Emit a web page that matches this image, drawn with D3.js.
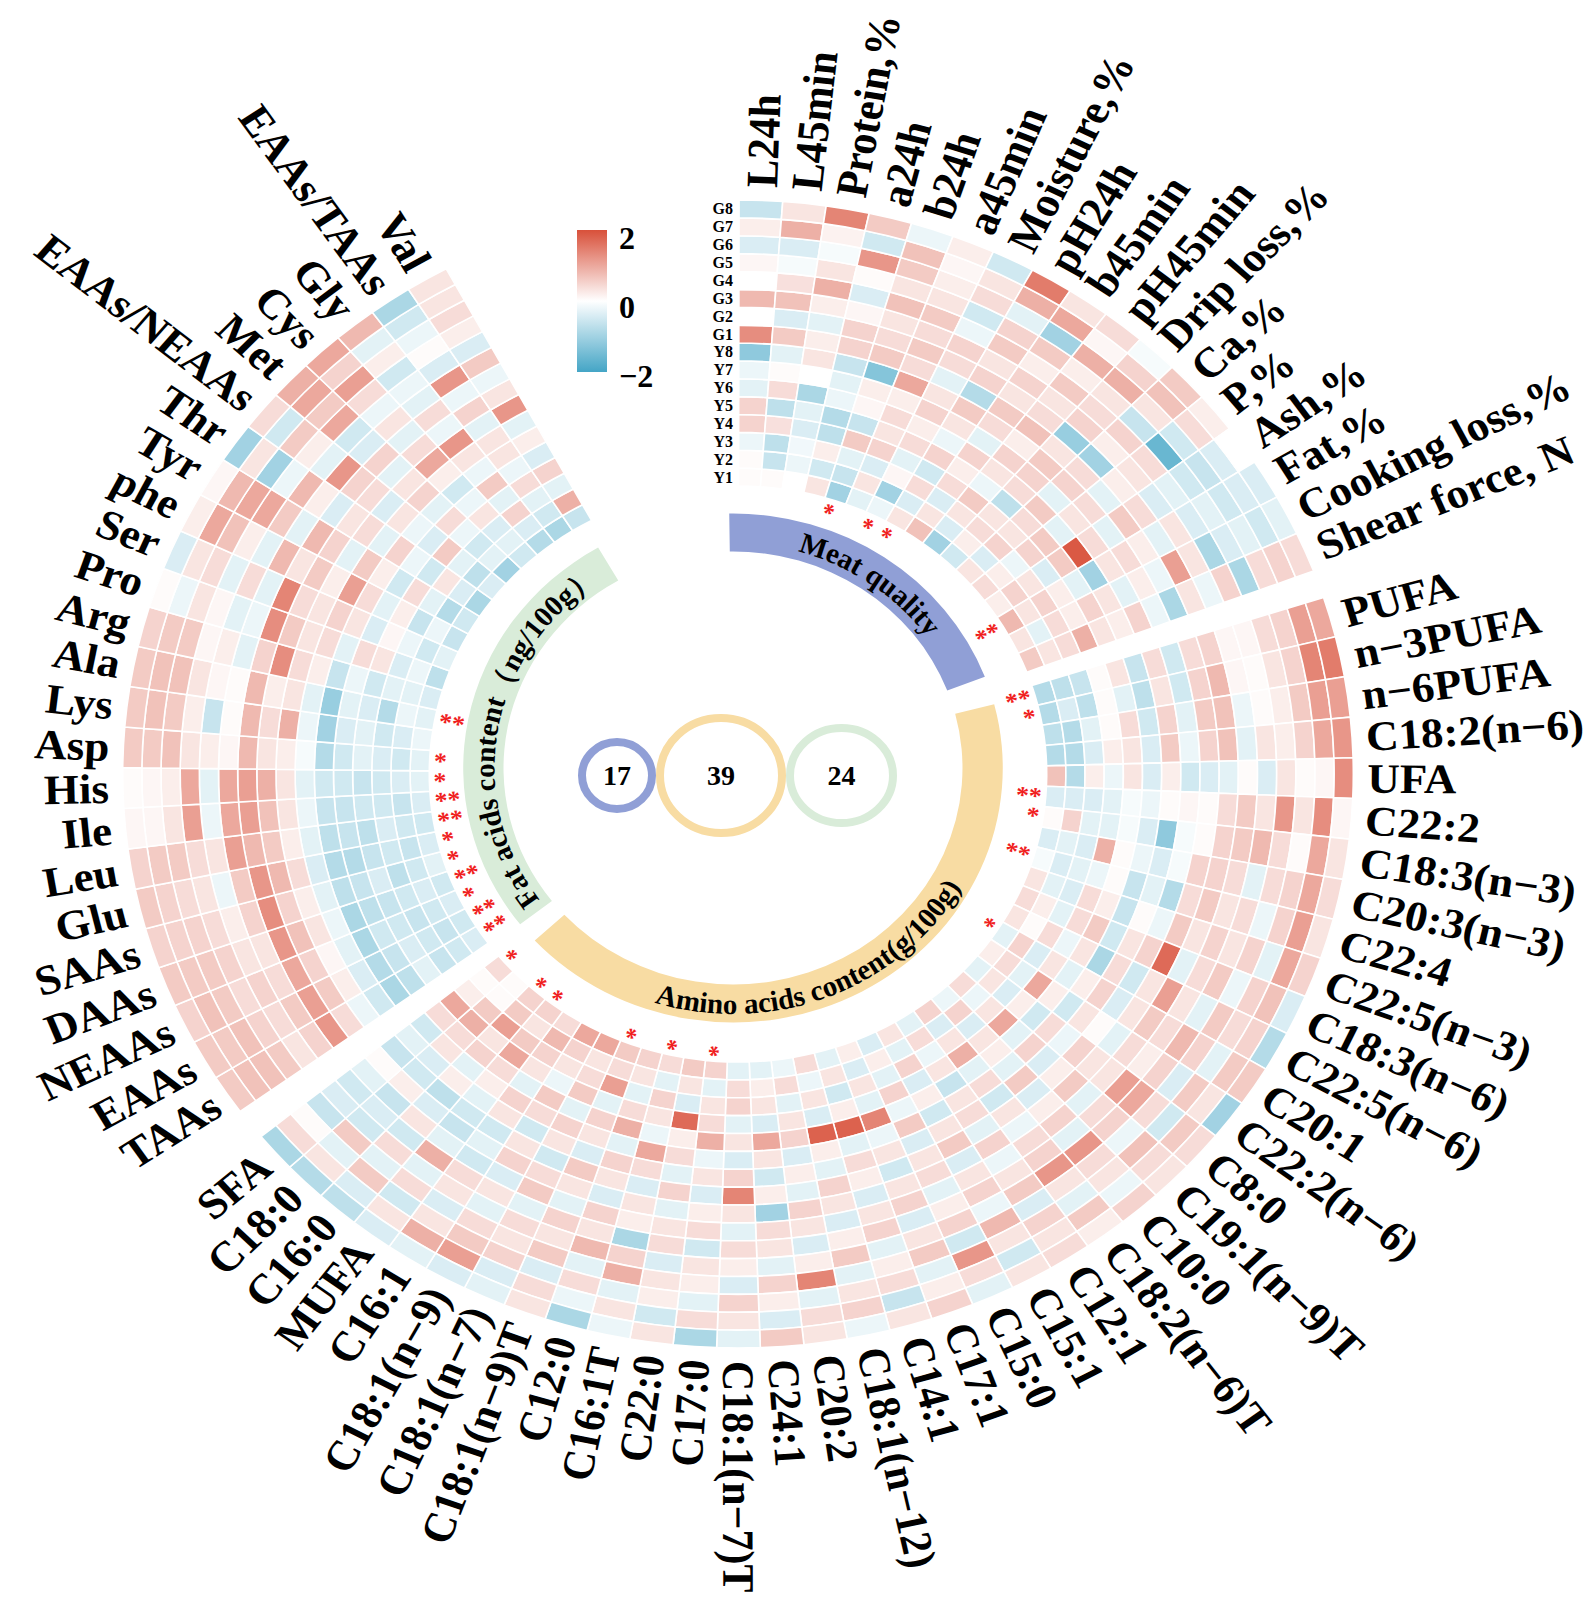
<!DOCTYPE html>
<html>
<head>
<meta charset="utf-8">
<script src="https://cdn.jsdelivr.net/npm/d3@7"></script>
<style>
  body { margin: 0; background: #fff; }
  text { font-family: "Liberation Serif", "Times New Roman", serif; font-weight: bold; }
</style>
</head>
<body>
<div id="chart"></div>
<script>
// rings, inner -> outer
var samples = ["Y1","Y2","Y3","Y4","Y5","Y6","Y7","Y8","G1","G2","G3","G4","G5","G6","G7","G8"];

// meat quality, one array per variable (Y1..G8)
var meatVars = ["L24h","L45min","Protein,%","a24h","b24h","a45min","Moisture,%","pH24h","b45min","pH45min",
  "Drip loss,%","Ca,%","P,%","Ash,%","Fat,%","Cooking loss,%","Shear force, N"];
var meatValues = [
  [0.05,0.05,-0.2,0.5,0.5,-0.3,-0.2,-1.2,1.3,0,0.8,0,0.1,-0.4,0.2,-0.6],
  [0.05,-0.6,-0.7,0.35,-0.7,0.4,0.05,-0.3,0.6,-0.4,0.7,0.35,-0.1,-0.4,0.9,0.3],
  [0,-0.2,-0.15,-0.4,-0.3,-0.9,0,0.3,0.2,-0.3,0.2,0.9,0.3,-0.1,0.15,1.4],
  [0.3,-0.5,0.2,-0.7,-0.8,-0.2,-0.3,-0.6,0.5,0.5,0.1,-0.4,0.05,1.2,-0.5,0.6],
  [-1.0,-0.6,-0.3,0.6,-0.6,0.1,0.2,-1.3,0.6,0.4,0.3,0.7,0.3,0.6,0.7,-0.2],
  [-0.3,0.3,-0.4,0.5,0.3,0.4,0.2,1.0,0.4,0.6,0.4,0.6,0.3,0.2,0.1,0.2],
  [-0.2,-1.0,0.1,-0.3,0.4,0.2,0.5,0.3,-0.3,0.4,0.5,-0.2,-0.5,0.4,0.3,-0.5],
  [0.3,-0.4,0.4,-0.5,0.5,-0.2,0.3,0.6,-0.8,0.5,0.3,0.6,0.5,-0.3,0.9,1.5],
  [0.7,0.3,-0.4,0.4,0.2,0.5,-0.3,0.4,0.6,0.3,0.5,0.2,0.6,-1.0,1.0,0.3],
  [-1.0,-0.4,0.3,0.6,-0.2,0.3,0.5,0.2,0.7,0.4,0.3,0.6,0.2,0.9,0.1,0.4],
  [-0.5,0.2,0.4,0.3,-0.7,0.4,0.5,0.6,0.3,-1.1,0.5,0.4,0.3,0.9,0.5,-0.1],
  [0.3,-0.4,0.5,0.3,0.4,0.6,-0.3,0.5,0.4,-1.0,0.2,0.5,-0.6,0.3,0.7,0.6],
  [0.4,0.2,-0.2,0.5,0.6,-0.3,0.3,0.4,-0.3,0.2,0.3,0.4,-1.6,-0.5,0.4,0.2],
  [0.2,0.5,0.3,-0.4,0.6,1.9,0.4,-0.3,0.6,0.4,-0.4,-0.3,-0.5,-0.6,-0.4,0],
  [0.8,0.3,0.5,0.2,-0.3,-1.0,0.3,0.4,0.2,-0.3,0.3,-0.4,-0.3,-0.5,-0.4,-0.4],
  [0.3,-0.3,0.4,0.2,0.5,0.3,-0.3,0.2,-0.2,1.1,0.3,-0.9,-0.4,-0.3,-0.5,-0.3],
  [0.6,0.3,0.4,0.9,0.3,0.2,0.5,-0.2,-0.9,0.3,-0.2,0.5,-0.9,0.4,0.5,0.4]
];
var meatStars = ["","","","","*","","*","*","","","","","","","**","",""];

// fatty acids
var fatVars = ["PUFA","n\u22123PUFA","n\u22126PUFA","C18:2(n\u22126)","UFA","C22:2","C18:3(n\u22123)","C20:3(n\u22123)",
  "C22:4","C22:5(n\u22123)","C18:3(n\u22126)","C22:5(n\u22126)","C20:1","C22:2(n\u22126)","C8:0","C19:1(n\u22129)T",
  "C10:0","C18:2(n\u22126)T","C12:1","C15:1","C15:0","C17:1","C14:1","C18:1(n\u221212)","C20:2","C24:1",
  "C18:1(n\u22127)T","C17:0","C22:0","C16:1T","C12:0","C18:1(n\u22129)T","C18:1(n\u22127)","C18:1(n\u22129)",
  "C16:1","MUFA","C16:0","C18:0","SFA"];
var fatValues = [
  [-0.8,-0.7,-0.6,0.05,0.3,-0.6,0.4,-0.5,0.4,0.5,0.1,0.1,0.4,0.5,1.1,1.0],
  [-0.8,-0.4,-0.7,0.05,-0.3,-0.7,0.3,-0.5,0.5,0.8,0.1,0.05,0.3,0.5,1.4,1.5],
  [-0.7,-0.8,-0.3,0.05,0.4,-0.5,0.5,-0.3,0.6,0.7,-0.2,0.05,0.2,0.6,1.1,1.1],
  [-0.8,-0.8,-0.4,0.2,0.3,-0.4,0.6,-0.2,0.5,0.7,-0.3,0.3,0.2,0.5,1.0,1.2],
  [0.7,-0.8,0.2,-0.2,0.3,-0.4,0.2,-0.5,-0.4,-0.3,0.05,-0.4,0.3,0.05,0.1,1.3],
  [-0.4,-0.4,-0.4,-0.3,-0.1,-0.2,0.05,0.1,0.05,0.4,0.6,0.3,1.2,0.3,1.3,0.1],
  [0.05,0.5,-0.3,-0.3,-0.1,-0.4,-1.2,-0.1,0.05,0.5,0.6,0.8,0.4,0.05,1.0,0.3],
  [-0.4,-0.3,-0.4,0.9,0.05,-0.2,-0.4,-0.1,0.5,0.5,0.4,-0.3,0.4,0.5,1.0,0.4],
  [-0.1,-0.4,-0.3,-0.2,0.05,-0.6,-0.3,-0.8,0.4,0.6,0.3,0.4,-0.2,0.5,1.1,0.3],
  [0.3,-0.3,-0.4,0.4,0.2,-0.6,0.05,-0.2,0.6,0.3,0.5,0.3,0.5,-0.3,1.0,0.5],
  [0.4,0.2,-0.3,0.4,0.6,-0.5,0.3,0.5,1.7,-0.3,0.4,0.6,-0.2,0.5,0.7,-0.4],
  [0.3,0.05,0.4,-0.2,0.3,-0.9,0.4,-0.5,0.3,1.1,0.3,-0.3,0.6,0.4,0.5,-0.8],
  [-0.3,0.5,-0.4,0.3,-0.3,0.2,0.5,-0.4,0.3,0.6,0.4,0.8,0.5,-0.3,0.6,0.6],
  [0.2,0.4,-0.3,1.0,0.2,-0.5,0.3,0.05,-0.3,0.4,0.2,0.5,-0.4,0.6,0.3,-1.0],
  [-0.3,0.3,-0.4,0.2,-0.5,0.4,-0.2,0.5,0.3,0.3,1.1,1.0,0.4,-0.5,0.6,0.4],
  [0.4,-0.2,0.3,1.0,-0.3,0.5,-0.4,0.2,0.6,-0.3,0.4,0.5,-0.2,0.7,0.4,0.3],
  [-0.2,0.5,-0.4,0.3,0.2,-0.3,0.6,-0.4,0.2,0.5,-0.3,1.2,0.4,0.3,-0.2,0.5],
  [0.5,-0.4,0.3,0.9,-0.3,0.4,-0.5,0.3,-0.2,0.4,0.5,1.2,0.3,-0.3,0.6,0.2],
  [-0.3,0.4,-0.2,0.3,-0.6,0.3,0.4,-0.3,0.5,-0.2,0.3,0.6,-0.4,0.5,0.3,0.4],
  [0.3,-0.3,0.5,-0.4,0.2,-0.5,0.3,0.6,-0.4,0.3,0.5,-0.2,0.8,0.3,-0.5,0.3],
  [-0.4,0.2,-0.3,0.5,-0.2,0.6,-0.4,0.3,0.4,-0.3,0.2,0.5,-0.5,1.2,0.4,-0.3],
  [0.2,-0.4,0.3,-0.3,1.4,-0.2,0.3,-0.5,0.3,0.5,-0.4,0.3,0.6,-0.3,0.2,0.5],
  [-0.3,0.3,-0.5,0.2,1.8,-0.3,0.4,0.2,-0.4,0.3,0.5,-0.3,0.2,0.4,-0.6,0.3],
  [0.4,-0.2,0.3,-0.4,1.8,0.2,-0.3,0.5,0.3,-0.4,0.2,0.6,-0.3,0.3,0.5,-0.2],
  [-0.2,0.4,-0.3,0.3,0.5,-0.4,0.2,-0.3,0.5,0.3,-0.4,0.2,1.4,-0.3,0.4,0.3],
  [-0.3,0.2,0.3,-0.4,1.0,0.3,-0.5,0.2,-1.0,0.4,0.3,-0.3,0.5,0.2,-0.4,0.6],
  [-0.3,0.4,0.5,-0.3,0.3,-0.4,0.5,1.4,0.3,-0.3,0.4,0.2,-0.4,0.5,0.3,-0.3],
  [0.5,-0.3,0.3,0.4,0.9,-0.2,0.3,-0.4,0.2,0.4,-0.5,0.3,0.2,-0.3,0.4,-0.9],
  [0.6,0.3,-0.4,1.7,0.2,0.4,-0.3,0.5,-0.3,0.3,0.4,-0.4,0.3,0.2,-0.5,0.3],
  [0.4,-0.3,0.5,0.3,-0.2,1.0,0.4,-0.4,0.3,0.2,-0.9,0.5,0.9,-0.3,0.3,-0.2],
  [0.5,0.3,-0.3,0.4,0.9,-0.3,0.5,0.3,-0.4,0.5,0.3,0.8,-0.3,0.4,-0.2,-0.9],
  [0.6,0.4,1.1,-0.3,0.5,0.3,-0.4,0.6,0.3,-0.3,0.5,0.3,0.6,-0.4,0.4,0.3],
  [1.0,0.3,0.4,0.6,-0.3,0.5,0.3,-0.5,0.4,0.6,-0.3,0.4,0.3,0.5,-0.4,-0.3],
  [1.0,0.5,0.3,-0.2,0.6,0.4,-0.5,0.3,0.5,-0.4,0.3,-0.3,0.4,0.6,1.1,-0.4],
  [0.4,0.8,0.5,0.3,-0.3,0.5,0.3,-0.5,-0.3,-0.5,0.4,0.3,-0.4,0.3,0.9,-0.3],
  [0.5,0.3,0.6,1.0,0.4,0.2,-0.3,-0.5,-0.6,-0.3,0.9,-0.3,0.4,-0.5,0.3,-0.4],
  [0.5,0.6,1.1,0.3,0.5,-0.3,0.2,-0.7,-0.4,0.3,-0.5,0.4,-0.3,0.6,-0.4,-0.7],
  [0.05,0.05,0.6,0.9,0.4,0.3,-0.4,-0.5,0.2,-0.6,-0.4,-0.5,0.6,-0.3,0.3,-0.8],
  [0.4,0.05,0.2,1.0,0.4,-0.5,-0.3,-0.6,0.05,-0.3,-0.5,-0.4,-0.6,0.05,0.4,-0.9]
];
var fatStars = ["**","*","","","","**","*","","**","","","","*","","","","","","","","","","","","","","",
  "*","","*","","*","","","","*","*","","*"];

// amino acids
var aminoVars = ["TAAs","EAAs","NEAAs","DAAs","SAAs","Glu","Leu","Ile","His","Asp","Lys","Ala","Arg","Pro","Ser",
  "phe","Tyr","Thr","EAAs/NEAAs","Met","Cys","Gly","EAAs/TAAs","Val"];
var aminoValues = [
  [-0.4,-0.5,-0.6,-0.3,-0.7,-0.9,-0.5,-0.2,0.4,1.2,0.5,0.3,0.6,0.7,0.7,0.6],
  [-0.5,-0.6,-0.5,-0.4,-0.6,-0.8,-0.4,0.2,0.6,1.1,0.6,0.4,0.5,0.7,0.6,0.6],
  [-0.4,-0.5,-0.6,-0.5,-0.5,-0.9,-0.3,0.1,0.5,1.0,0.4,0.5,0.4,0.6,0.7,0.5],
  [-0.5,-0.4,-0.5,-0.6,-0.7,-0.9,-0.2,0.3,0.7,1.2,0.3,0.3,0.5,0.6,0.6,0.6],
  [-0.3,-0.5,-0.7,-0.4,-0.6,-0.7,-0.3,0.2,0.5,1.3,0.5,0.2,0.4,0.5,0.5,0.5],
  [-0.4,-0.6,-0.5,-0.6,-0.8,-0.8,-0.4,0.4,0.8,1.2,0.6,-0.2,0.3,0.4,0.5,0.6],
  [-0.5,-0.5,-0.4,-0.7,-0.6,-0.7,-0.3,0.2,0.6,0.8,1.1,0.3,0.4,0.6,0.6,0.5],
  [-0.4,-0.6,-0.5,-0.5,-0.6,-0.6,-0.2,0.3,0.7,1.1,1.0,-0.2,1.1,0.3,0.1,0.1],
  [-0.3,-0.4,-0.5,-0.6,-0.5,-0.5,-0.3,0.3,0.9,1.1,1.0,-0.3,1.0,0.2,0.1,0.05],
  [-0.3,-0.5,-0.4,-0.3,-0.5,-0.8,-0.1,0.2,0.3,0.8,0.1,0.2,0.3,0.7,0.6,0.6],
  [-0.2,-0.4,-0.5,-0.3,-0.4,-1.0,-0.2,0.9,0.4,0.8,0.05,-0.6,0.2,0.6,0.7,0.6],
  [-0.3,-0.2,-0.8,-0.4,-0.3,-1.1,-0.3,0.3,0.2,0.8,0.05,0.1,0.3,0.7,0.7,0.6],
  [-0.4,-0.3,-0.3,-0.5,-0.2,-0.6,0.2,0.4,1.3,0.5,-0.3,0.2,0.1,0.6,0.6,0.5],
  [-0.7,-0.2,-0.4,0.3,0.4,-0.3,0.4,0.3,0.6,1.3,-0.2,-0.3,0.1,0.3,-0.2,0.05],
  [-0.3,-0.5,-0.2,0.1,-0.4,0.3,0.5,0.3,0.4,1.4,-0.3,0.4,-0.3,0.4,0.3,-0.4],
  [-0.6,-0.2,-0.6,0.2,-0.3,0.4,1.1,0.2,0.6,0.3,0.8,-0.3,0.2,0.7,1.0,0.2],
  [-0.5,-0.8,-0.3,0.4,-0.5,0.2,0.6,-0.3,0.5,0.8,-0.3,0.6,1.0,1.0,0.8,0.1],
  [-0.9,-0.4,0.3,-0.5,-0.2,0.5,-0.3,0.4,0.3,-0.4,0.2,0.8,-0.2,-1.0,0.3,-1.0],
  [-0.4,-0.7,-0.3,0.6,-0.4,-0.2,0.3,-0.4,0.4,0.5,1.2,-0.3,0.2,0.6,-0.5,0.4],
  [-1.0,-0.3,-0.5,-0.2,0.4,-0.3,0.5,0.3,-0.3,0.5,-0.4,-0.5,1.0,0.6,1.0,0.9],
  [-0.5,-0.3,-0.4,0.3,-0.2,-0.5,0.2,1.0,0.4,-0.3,0.3,-0.2,0.4,1.1,0.5,1.0],
  [-0.8,-0.4,0.5,-0.3,0.6,-0.2,0.3,1.2,-0.2,0.4,-0.3,-0.2,-0.5,0.2,-0.3,0.8],
  [-0.9,-0.5,-0.3,0.4,-0.2,0.3,0.3,-0.3,0.5,-0.2,1.2,-0.4,0.05,-0.2,-0.5,-0.9],
  [-0.6,0.9,-0.3,0.5,-0.4,0.2,-0.3,1.2,0.3,-0.2,0.6,-0.4,0.2,0.4,0.3,0.3]
];
var aminoStars = ["**","**","*","**","*","*","**","**","*","*","","**","","","","","","","","","","","",""];

var legendTicks = [2, 0, -2];

// ---------------- layout ----------------
var geo = { cx: 738, cy: 774, sx: 1.072, rIn: 288, rOut: 574, colDeg: 4.07, labelR: 587, starR: 284 };
var band = { cx: 733, cy: 768, sx: 1.06, rIn: 216.5, rOut: 254.5 };

var svg = d3.select("#chart").append("svg").attr("width", 1595).attr("height", 1603);

var rad = function(d) { return d * Math.PI / 180; };
var color = d3.scaleLinear().domain([-2, 0, 2]).range(["#44a5c6", "#ffffff", "#d8503a"]).clamp(true);
var rScale = d3.scaleBand().domain(samples).range([geo.rIn, geo.rOut]);

var sectors = [
  { vars: meatVars, vals: meatValues, stars: meatStars, start: 0.1 },
  { vars: fatVars, vals: fatValues, stars: fatStars, start: 72.1 },
  { vars: aminoVars, vals: aminoValues, stars: aminoStars, start: 234.0 }
];

function polar(r, a) { return [geo.cx + geo.sx * r * Math.sin(a), geo.cy - r * Math.cos(a)]; }

var ring = svg.append("g")
  .attr("transform", "translate(" + geo.cx + "," + geo.cy + ") scale(" + geo.sx + ",1)");
var arc = d3.arc();

sectors.forEach(function(sec) {
  sec.aScale = d3.scaleBand().domain(sec.vars)
    .range([rad(sec.start), rad(sec.start + sec.vars.length * geo.colDeg)]);
  var cells = [];
  sec.vars.forEach(function(v, i) {
    samples.forEach(function(s, j) { cells.push({ v: v, s: s, val: sec.vals[i][j] }); });
  });
  ring.append("g").selectAll("path").data(cells).enter().append("path")
    .attr("d", function(d) {
      return arc({ innerRadius: rScale(d.s), outerRadius: rScale(d.s) + rScale.bandwidth(),
        startAngle: sec.aScale(d.v), endAngle: sec.aScale(d.v) + sec.aScale.bandwidth() });
    })
    .attr("fill", function(d) { return color(d.val); })
    .attr("stroke", "#fff").attr("stroke-width", 1.6)
    .attr("vector-effect", "non-scaling-stroke");

  // variable labels and significance stars (drawn on the circle, then stretched like the rings)
  sec.vars.forEach(function(v, i) {
    var a = sec.aScale(v) + sec.aScale.bandwidth() / 2;
    var deg = a * 180 / Math.PI;
    var right = deg < 180;
    var rot = right ? deg - 90 : deg + 90;
    var p = polar(geo.labelR, a);
    svg.append("text")
      .attr("transform", "translate(" + p[0] + "," + p[1] + ") scale(" + geo.sx + ",1) rotate(" + rot + ")")
      .attr("text-anchor", right ? "start" : "end")
      .attr("dominant-baseline", "central")
      .attr("font-size", 42)
      .text(v);
    if (sec.stars[i]) {
      var q = polar(geo.starR, a);
      svg.append("text")
        .attr("transform", "translate(" + q[0] + "," + q[1] + ") scale(" + geo.sx + ",1) rotate(" + rot + ")")
        .attr("text-anchor", right ? "end" : "start")
        .attr("dominant-baseline", "central")
        .attr("font-size", 24).attr("fill", "#f01e1e")
        .text(sec.stars[i]);
    }
  });
});

// ring labels at 12 o'clock
svg.append("g").selectAll("text").data(samples).enter().append("text")
  .attr("x", 733)
  .attr("y", function(s) { return geo.cy - (rScale(s) + rScale.bandwidth() / 2); })
  .attr("text-anchor", "end").attr("dominant-baseline", "central")
  .attr("font-size", 16)
  .text(function(s) { return s; });

// ---------------- inner group bands ----------------
var groups = [
  { text: "Meat quality", start: -0.8, end: 69.0, fill: "#909fd6", cw: true, offset: "52%" },
  { text: "Amino acids content(g/100g)", start: 75.5, end: 227.3, fill: "#f8dca3", cw: false, offset: "46%" },
  { text: "Fat acids content\uff08ng/100g\uff09", start: 232.1, end: 330.0, fill: "#d9ecd9", cw: true, offset: "49%" }
];
function bpt(r, deg) { var a = rad(deg); return [band.cx + band.sx * r * Math.sin(a), band.cy - r * Math.cos(a)]; }
var bandG = svg.append("g")
  .attr("transform", "translate(" + band.cx + "," + band.cy + ") scale(" + band.sx + ",1)");
bandG.selectAll("path").data(groups).enter().append("path")
  .attr("d", function(g) {
    return arc({ innerRadius: band.rIn, outerRadius: band.rOut, startAngle: rad(g.start), endAngle: rad(g.end) });
  })
  .attr("fill", function(g) { return g.fill; });

var defs = svg.append("defs");
groups.forEach(function(g, i) {
  var r = g.cw ? 225 : 246;
  var p0 = bpt(r, g.cw ? g.start : g.end), p1 = bpt(r, g.cw ? g.end : g.start);
  var large = (g.end - g.start) > 180 ? 1 : 0;
  defs.append("path").attr("id", "bandPath" + i)
    .attr("d", "M" + p0[0] + "," + p0[1] + " A" + (band.sx * r) + "," + r + " 0 " + large + " " + (g.cw ? 1 : 0) + " " + p1[0] + "," + p1[1]);
  svg.append("text").attr("font-size", 29)
    .append("textPath").attr("href", "#bandPath" + i)
    .attr("startOffset", g.offset).attr("text-anchor", "middle")
    .text(g.text);
});

// ---------------- centre circles (variable counts) ----------------
var counts = [
  { n: meatVars.length, x: 617, rx: 35, ry: 33.5, stroke: "#909fd6" },
  { n: fatVars.length, x: 721, rx: 61, ry: 57.5, stroke: "#f8dca3" },
  { n: aminoVars.length, x: 841.5, rx: 51.5, ry: 47.5, stroke: "#d9ecd9" }
];
var cg = svg.append("g");
cg.selectAll("ellipse").data(counts).enter().append("ellipse")
  .attr("cx", function(d) { return d.x; }).attr("cy", 775.5)
  .attr("rx", function(d) { return d.rx; }).attr("ry", function(d) { return d.ry; })
  .attr("fill", "none").attr("stroke", function(d) { return d.stroke; }).attr("stroke-width", 8);
cg.selectAll("text").data(counts).enter().append("text")
  .attr("x", function(d) { return d.x; }).attr("y", 775.5)
  .attr("text-anchor", "middle").attr("dominant-baseline", "central")
  .attr("font-size", 28)
  .text(function(d) { return d.n; });

// ---------------- legend ----------------
var lg = defs.append("linearGradient").attr("id", "lg").attr("x1", 0).attr("y1", 0).attr("x2", 0).attr("y2", 1);
d3.range(0, 1.0001, 0.1).forEach(function(t) {
  lg.append("stop").attr("offset", (t * 100) + "%").attr("stop-color", color(2 - 4 * t));
});
var legY = d3.scaleLinear().domain([2, -2]).range([232, 370]);
svg.append("rect").attr("x", 577).attr("y", 230).attr("width", 30).attr("height", 142).attr("fill", "url(#lg)");
svg.append("g").selectAll("text").data(legendTicks).enter().append("text")
  .attr("x", 619).attr("y", function(d) { return legY(d) + 6; })
  .attr("dominant-baseline", "central").attr("font-size", 32)
  .text(function(d) { return d < 0 ? "\u2212" + Math.abs(d) : d; });
</script>
</body>
</html>
